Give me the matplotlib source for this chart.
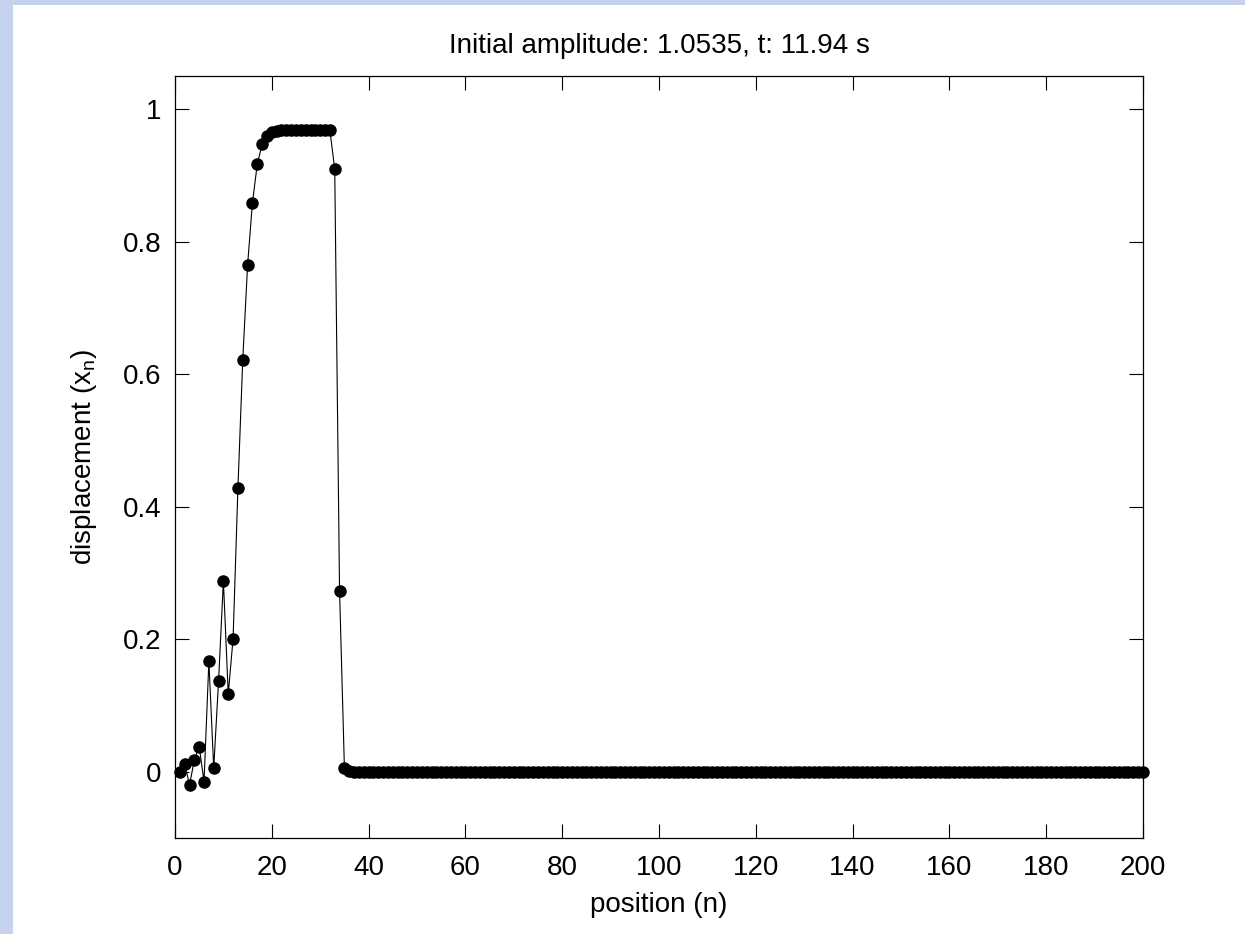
import numpy as np
import matplotlib
matplotlib.use('Agg')
import matplotlib.pyplot as plt
from matplotlib.patches import Rectangle

plt.rcParams['font.family'] = ['Liberation Sans', 'DejaVu Sans']
plt.rcParams['mathtext.fontset'] = 'custom'
plt.rcParams['mathtext.rm'] = 'Liberation Sans'
plt.rcParams['mathtext.it'] = 'Liberation Sans'

# displacement of each site at t = 11.94 s
front = [0.0, 0.012, -0.02, 0.018, 0.038, -0.015, 0.167, 0.005, 0.137, 0.288,
         0.117, 0.201, 0.428, 0.622, 0.765, 0.859, 0.917, 0.947, 0.960, 0.965,
         0.967, 0.968, 0.968, 0.968, 0.968, 0.968, 0.968, 0.968, 0.968, 0.968,
         0.968, 0.968, 0.910, 0.273, 0.006, 0.001]
tail = [0.0] * 164
displacement = np.array(front + tail)
position = np.arange(1, len(displacement) + 1)

xticks = list(range(0, 201, 20))
yticks = [0, 0.2, 0.4, 0.6, 0.8, 1]
ytick_labels = ['0', '0.2', '0.4', '0.6', '0.8', '1']
title = 'Initial amplitude: 1.0535, t: 11.94 s'

fig = plt.figure(figsize=(12.45, 9.34), dpi=100)
fig.patch.set_facecolor('#c6d3ef')
fig.add_artist(Rectangle((13 / 1245, 0), 1, 1 - 5 / 934, transform=fig.transFigure,
                         facecolor='white', edgecolor='none', zorder=-10))

ax = fig.add_axes([175 / 1245, 1 - 838 / 934, (1143 - 175) / 1245, (838 - 76) / 934])
ax.plot(position, displacement, '-o', color='black', lw=0.8, ms=8,
        markerfacecolor='black', markeredgecolor='black', clip_on=False)

ax.set_xlim(0, 200)
ax.set_ylim(-0.1, 1.05)
ax.set_xticks(xticks)
ax.set_yticks(yticks)
ax.set_yticklabels(ytick_labels)
ax.tick_params(direction='in', length=10, width=0.8, top=True, right=True,
               labelsize=20)
ax.tick_params(axis='x', pad=12)
ax.tick_params(axis='y', pad=9.5)
for sp in ax.spines.values():
    sp.set_linewidth(0.9)

ax.set_title(title, fontsize=20, pad=16.5)
ax.set_xlabel('position (n)', fontsize=20, va='baseline')
ax.xaxis.set_label_coords(0.5, -74 / 762)
ax.set_ylabel(r'displacement (x$_\mathrm{n}$)', fontsize=20, va='baseline')
ax.yaxis.set_label_coords(-84 / 968, 0.5)

fig.savefig('out.png', dpi=100)
